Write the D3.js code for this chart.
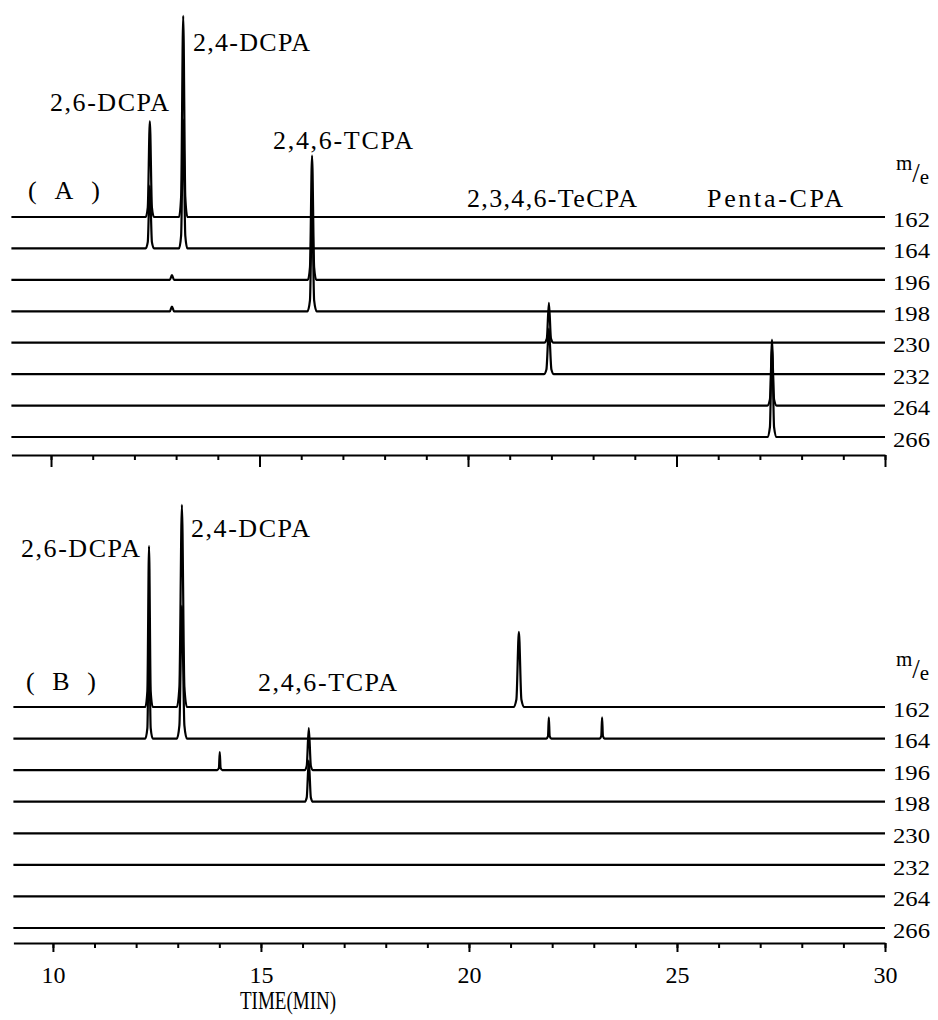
<!DOCTYPE html>
<html>
<head>
<meta charset="utf-8">
<script src="https://cdn.jsdelivr.net/npm/d3@7"></script>
<style>
  html, body { margin: 0; padding: 0; background: #fff; }
  svg { display: block; }
  text { font-family: "Liberation Serif", "DejaVu Serif", serif; fill: #000; }
</style>
</head>
<body>
<svg id="chart" width="938" height="1020"></svg>
<script>
// ---------------- DATA ----------------
const channels = ["162", "164", "196", "198", "230", "232", "264", "266"];
const majorTicks = [10, 15, 20, 25, 30];
const minorTicks = [10, 11, 12, 13, 14, 15, 16, 17, 18, 19, 20, 21, 22, 23, 24, 25, 26, 27, 28, 29, 30];
const timeDomain = [9.05, 30];

// Panel A traces: [time (min), relative intensity]
const traceA162 = [[9.05,0],[12.27,0],[12.32,3],[12.37,30.5],[12.42,3],[12.47,0],[13.07,0],[13.12,6.4],[13.17,64],[13.22,6.4],[13.27,0],[30,0]];
const traceA164 = [[9.05,0],[12.27,0],[12.32,2],[12.37,20],[12.42,2],[12.47,0],[13.07,0],[13.12,4.1],[13.17,41],[13.22,4.1],[13.27,0],[30,0]];
const traceA196 = [[9.05,0],[12.85,0],[12.9,1.5],[12.95,0],[16.16,0],[16.21,4],[16.26,39.5],[16.31,4],[16.36,0],[30,0]];
const traceA198 = [[9.05,0],[12.85,0],[12.9,1.5],[12.95,0],[16.15,0],[16.21,3.5],[16.26,35],[16.31,3.5],[16.37,0],[30,0]];
const traceA230 = [[9.05,0],[21.83,0],[21.89,1.3],[21.94,12.7],[21.99,1.3],[22.05,0],[30,0]];
const traceA232 = [[9.05,0],[21.82,0],[21.88,1.5],[21.94,14.5],[22.0,1.5],[22.06,0],[30,0]];
const traceA264 = [[9.05,0],[27.18,0],[27.24,1.9],[27.29,19],[27.34,1.9],[27.4,0],[30,0]];
const traceA266 = [[9.05,0],[27.18,0],[27.24,3.1],[27.29,31],[27.34,3.1],[27.4,0],[30,0]];

// Panel B traces
const traceB162 = [[9.05,0],[12.22,0],[12.27,5],[12.31,51],[12.35,5],[12.4,0],[12.98,0],[13.04,6.4],[13.1,64],[13.16,6.4],[13.22,0],[21.07,0],[21.14,2.4],[21.2,23.8],[21.26,2.4],[21.33,0],[30,0]];
const traceB164 = [[9.05,0],[12.22,0],[12.27,3.3],[12.31,33],[12.35,3.3],[12.4,0],[12.98,0],[13.04,4.2],[13.1,42],[13.16,4.2],[13.22,0],[21.86,0],[21.9,0.8],[21.92,6.7],[21.94,0.8],[21.98,0],[23.14,0],[23.18,0.8],[23.2,6.7],[23.22,0.8],[23.26,0],[30,0]];
const traceB196 = [[9.05,0],[13.95,0],[13.99,0.7],[14.01,5.7],[14.03,0.7],[14.07,0],[16.05,0],[16.1,1.3],[16.15,13.3],[16.2,1.3],[16.25,0],[30,0]];
const traceB198 = [[9.05,0],[16.05,0],[16.1,1.3],[16.15,13],[16.2,1.3],[16.25,0],[30,0]];
const traceB230 = [[9.05,0],[30,0]];
const traceB232 = [[9.05,0],[30,0]];
const traceB264 = [[9.05,0],[30,0]];
const traceB266 = [[9.05,0],[30,0]];

const tracesA = [traceA162, traceA164, traceA196, traceA198, traceA230, traceA232, traceA264, traceA266];
const tracesB = [traceB162, traceB164, traceB196, traceB198, traceB230, traceB232, traceB264, traceB266];

// ---------------- DRAWING ----------------
const svg = d3.select("#chart");
const font = '"Liberation Serif", "DejaVu Serif", serif';

function drawPanel(cfg) {
  const x = d3.scaleLinear().domain(timeDomain).range([cfg.x0, 885]);
  const y = d3.scaleLinear().domain([0, 70]).range([cfg.yBottom, cfg.yTop]);
  const g = svg.append("g");
  const line = d3.line()
    .x(d => x(d[0]))
    .y(d => d[1])
    .curve(d3.curveMonotoneX);

  cfg.traces.forEach((tr, k) => {
    const off = (channels.length - 1 - k) * 10;
    const pts = tr.map(p => [p[0], y(off + p[1])]);
    g.append("path")
      .attr("d", line(pts))
      .attr("fill", "none")
      .attr("stroke", "#000")
      .attr("stroke-width", 2.2)
      .attr("stroke-linejoin", "round");
    g.append("text")
      .attr("x", 893)
      .attr("y", y(off) + 2)
      .attr("dy", "0.35em")
      .attr("font-size", 22)
      .attr("textLength", 37)
      .attr("lengthAdjust", "spacingAndGlyphs")
      .text(channels[k]);
  });

  // axis: minor ticks
  const axisY = cfg.axisY;
  const minor = g.append("g").attr("transform", `translate(0,${axisY})`)
    .call(d3.axisBottom(x).tickValues(minorTicks).tickSize(5).tickSizeOuter(0).tickFormat(""));
  minor.select(".domain").attr("stroke-width", 2.2);
  minor.selectAll(".tick line").attr("stroke-width", 2);
  const major = g.append("g").attr("transform", `translate(0,${axisY})`)
    .call(d3.axisBottom(x).tickValues(majorTicks).tickSize(cfg.majorSize).tickSizeOuter(0)
      .tickPadding(14).tickFormat(cfg.labels ? d3.format("d") : ""));
  major.select(".domain").remove();
  major.selectAll(".tick line").attr("stroke-width", 2);
  major.selectAll(".tick text")
    .attr("font-family", font)
    .attr("font-size", 24)
    .attr("fill", "#000");

  // m/e label
  const me = g.append("text").attr("x", 896).attr("y", cfg.meY).attr("font-size", 21);
  me.append("tspan").text("m");
  me.append("tspan").attr("dx", 0).attr("dy", 12).attr("font-size", 27).text("/");
  me.append("tspan").attr("dx", 0).attr("dy", 2).text("e");

  cfg.annotations.forEach(a => {
    g.append("text")
      .attr("x", a.x).attr("y", a.y)
      .attr("font-size", a.size || 26)
      .attr("textLength", a.w)
      .attr("lengthAdjust", "spacing")
      .text(a.t);
  });
  return x;
}

drawPanel({
  traces: tracesA, x0: 11.4, yBottom: 437, yTop: 217, axisY: 455, majorSize: 12, labels: false,
  meY: 170,
  annotations: [
    { t: "2,6-DCPA", x: 50, y: 111, w: 119 },
    { t: "2,4-DCPA", x: 193, y: 51, w: 117 },
    { t: "2,4,6-TCPA", x: 273, y: 149, w: 140 },
    { t: "(  A  )", x: 28, y: 199, w: 72 },
    { t: "2,3,4,6-TeCPA", x: 467, y: 207, w: 170 },
    { t: "Penta-CPA", x: 707, y: 207, w: 136 }
  ]
});

drawPanel({
  traces: tracesB, x0: 13.4, yBottom: 928, yTop: 707, axisY: 943, majorSize: 9, labels: true,
  meY: 666,
  annotations: [
    { t: "2,6-DCPA", x: 21, y: 557, w: 119 },
    { t: "2,4-DCPA", x: 191, y: 537, w: 119 },
    { t: "(  B  )", x: 26, y: 690, w: 70 },
    { t: "2,4,6-TCPA", x: 258, y: 691, w: 139 }
  ]
});

svg.append("text")
  .attr("x", 240).attr("y", 1009)
  .attr("font-size", 25)
  .attr("textLength", 96)
  .attr("lengthAdjust", "spacingAndGlyphs")
  .text("TIME(MIN)");
</script>
</body>
</html>
